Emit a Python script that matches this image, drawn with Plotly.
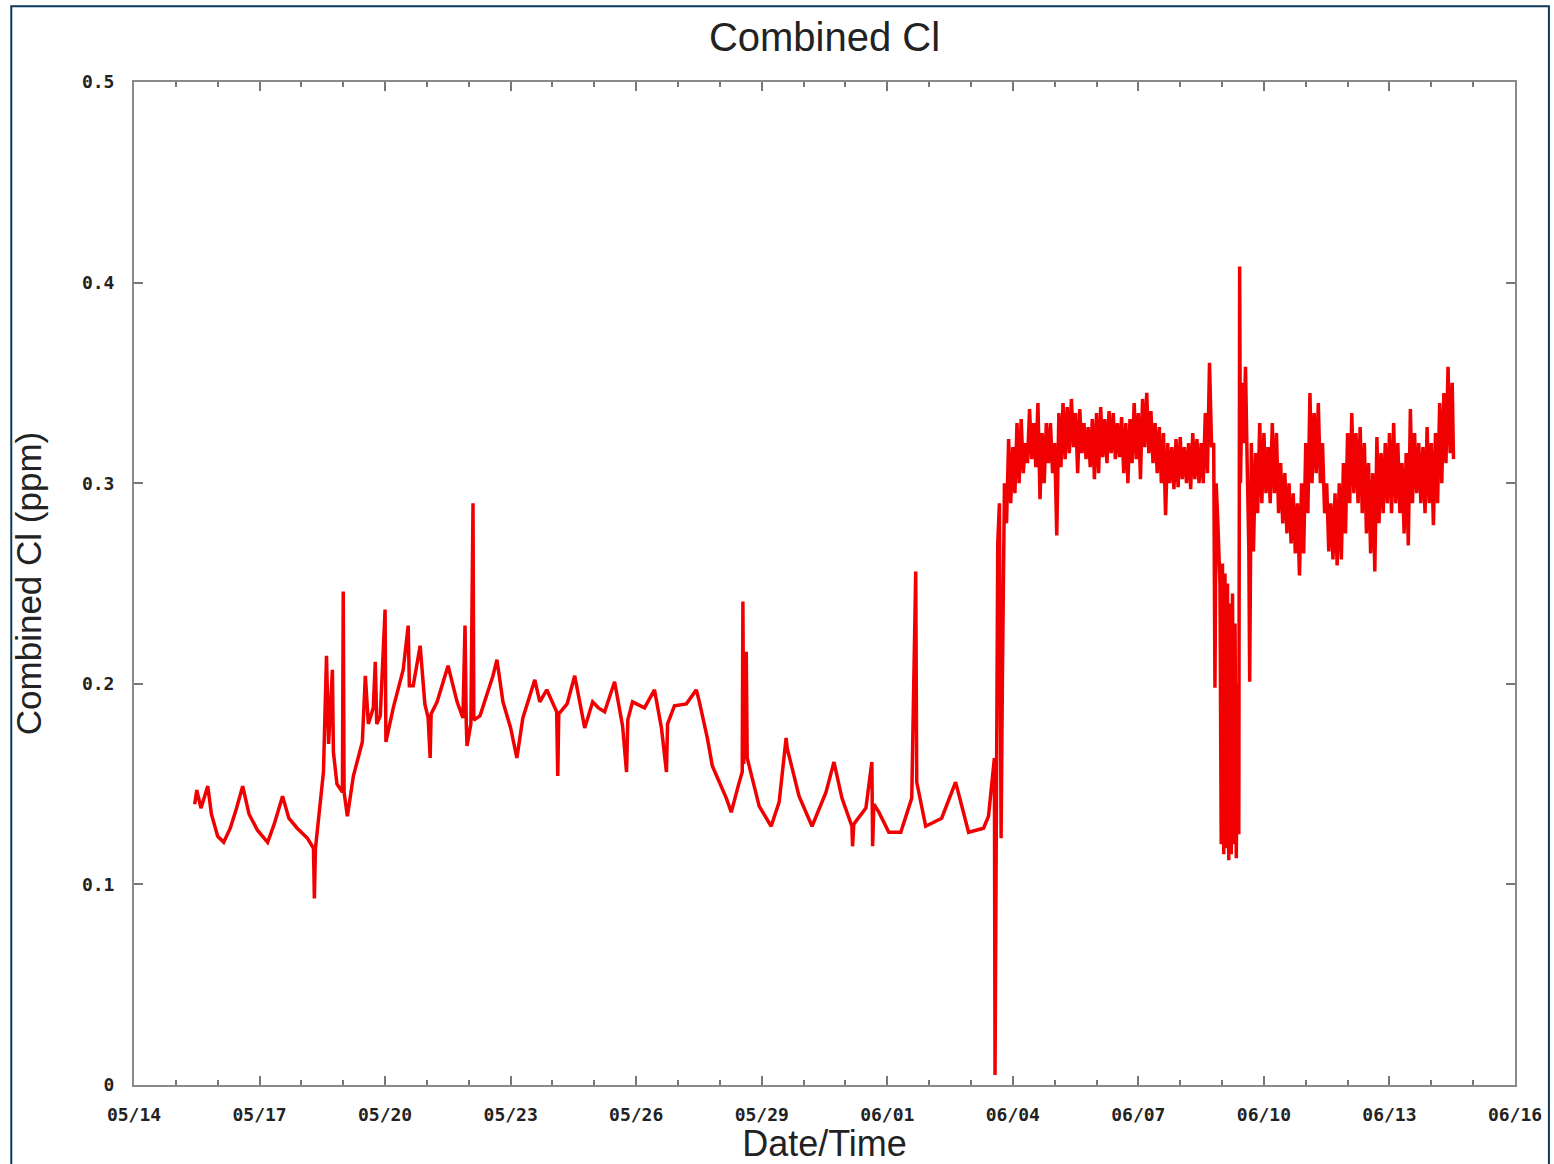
import pandas as pd
import plotly.graph_objects as go

# ---- data (days after 05/14 00:00, combined chlorine in ppm) ----
day_a = [1.45, 1.50, 1.60, 1.763, 1.85, 2.00, 2.144, 2.30, 2.45, 2.597, 2.75, 2.95, 3.193, 3.35, 3.55, 3.70,
         3.90, 4.146, 4.289, 4.31, 4.336, 4.45, 4.527, 4.60, 4.65, 4.741, 4.765, 4.85, 4.98, 5.00, 5.02, 5.099,
         5.242, 5.456, 5.528, 5.60, 5.718, 5.766, 5.80, 5.885, 6.00, 6.02, 6.195, 6.433, 6.552, 6.58, 6.672,
         6.838, 6.95, 7.029, 7.077, 7.10, 7.243, 7.505, 7.72, 7.86, 7.91, 7.94, 7.958, 8.05, 8.101, 8.12, 8.268,
         8.578, 8.673, 8.816, 9.00, 9.149, 9.292, 9.578, 9.697, 9.864, 10.10, 10.126, 10.15, 10.35, 10.531,
         10.77, 10.96, 11.10, 11.246, 11.484, 11.675, 11.77, 11.80, 11.913, 12.199, 12.437, 12.604, 12.723,
         12.75, 12.914, 13.20, 13.438, 13.51, 13.70, 13.82, 14.153, 14.272, 14.45, 14.534, 14.55, 14.57, 14.63,
         14.653, 14.939, 15.225, 15.416, 15.583, 15.607, 15.892, 16.202, 16.536, 16.726, 16.917, 17.155, 17.17,
         17.20, 17.489, 17.632, 17.65, 17.68, 17.799, 18.037, 18.323, 18.585, 18.68, 18.704, 18.918, 19.30,
         19.633, 19.943, 20.30, 20.419, 20.56, 20.575, 20.60, 20.64, 20.68, 20.70, 20.72, 20.75, 20.78]
cl_a = [0.140, 0.147, 0.138, 0.149, 0.135, 0.124, 0.121, 0.128, 0.138, 0.149, 0.135, 0.127, 0.121, 0.130, 0.144, 0.133,
        0.128, 0.123, 0.118, 0.093, 0.118, 0.140, 0.156, 0.214, 0.170, 0.207, 0.166, 0.150, 0.146, 0.246, 0.146, 0.134,
        0.154, 0.171, 0.204, 0.180, 0.188, 0.211, 0.180, 0.184, 0.237, 0.171, 0.188, 0.207, 0.229, 0.199, 0.199,
        0.219, 0.190, 0.183, 0.163, 0.185, 0.191, 0.209, 0.191, 0.183, 0.229, 0.180, 0.169, 0.180, 0.290, 0.182, 0.184,
        0.204, 0.212, 0.191, 0.178, 0.163, 0.183, 0.202, 0.191, 0.197, 0.186, 0.154, 0.185, 0.190, 0.204,
        0.178, 0.191, 0.188, 0.186, 0.201, 0.179, 0.156, 0.182, 0.191, 0.188, 0.197, 0.178, 0.156,
        0.180, 0.189, 0.190, 0.197, 0.191, 0.173, 0.159, 0.143, 0.136, 0.150, 0.156, 0.241, 0.160, 0.216,
        0.163, 0.139, 0.129, 0.141, 0.173, 0.168, 0.144, 0.129, 0.146, 0.161, 0.143, 0.129, 0.119,
        0.130, 0.138, 0.161, 0.119, 0.140, 0.136, 0.126, 0.126, 0.143, 0.256, 0.151, 0.129, 0.133,
        0.151, 0.126, 0.128, 0.134, 0.163, 0.005, 0.150, 0.270, 0.290, 0.165, 0.123, 0.200, 0.276]

day_b = [20.80, 20.85, 20.90, 20.95, 21.00, 21.05, 21.10, 21.15, 21.20, 21.25, 21.30, 21.35, 21.40, 21.45,
         21.50, 21.55, 21.60, 21.65, 21.70, 21.75, 21.80, 21.85, 21.90, 21.95, 22.00, 22.05, 22.10, 22.15,
         22.20, 22.25, 22.30, 22.35, 22.40, 22.45, 22.50, 22.55, 22.60, 22.65, 22.70, 22.75, 22.80, 22.85,
         22.90, 22.95, 23.00, 23.05, 23.10, 23.15, 23.20, 23.25, 23.30, 23.35, 23.40, 23.45, 23.50, 23.55,
         23.60, 23.65, 23.70, 23.75, 23.80, 23.85, 23.90, 23.95, 24.00, 24.05, 24.10, 24.15, 24.20, 24.25,
         24.30, 24.35, 24.40, 24.45, 24.50, 24.55, 24.60, 24.65, 24.70, 24.75, 24.80, 24.85, 24.90, 24.95,
         25.00, 25.05, 25.10, 25.15, 25.20, 25.25, 25.30, 25.35, 25.40, 25.45, 25.50, 25.55, 25.60, 25.65,
         25.70, 25.75, 25.80, 25.83, 25.86, 25.90, 25.95]
cl_b = [0.300, 0.280, 0.322, 0.290, 0.318, 0.295, 0.330, 0.300, 0.332, 0.305, 0.320, 0.310, 0.337, 0.312,
        0.330, 0.308, 0.340, 0.292, 0.325, 0.300, 0.330, 0.310, 0.330, 0.305, 0.320, 0.274, 0.335, 0.308,
        0.340, 0.312, 0.338, 0.315, 0.342, 0.318, 0.335, 0.305, 0.337, 0.315, 0.330, 0.312, 0.328, 0.308,
        0.332, 0.302, 0.335, 0.305, 0.338, 0.313, 0.332, 0.310, 0.336, 0.315, 0.335, 0.312, 0.330, 0.313,
        0.333, 0.305, 0.330, 0.300, 0.332, 0.310, 0.340, 0.312, 0.335, 0.302, 0.342, 0.318, 0.345, 0.315,
        0.336, 0.310, 0.330, 0.305, 0.328, 0.300, 0.325, 0.284, 0.320, 0.300, 0.318, 0.297, 0.322, 0.298,
        0.323, 0.302, 0.318, 0.300, 0.320, 0.297, 0.325, 0.302, 0.322, 0.300, 0.320, 0.300, 0.335, 0.305,
        0.360, 0.318, 0.320, 0.198, 0.300, 0.280, 0.250]

day_c = [25.98, 26.01, 26.04, 26.07, 26.10, 26.13, 26.16, 26.19, 26.22, 26.25, 26.28, 26.31, 26.34, 26.37,
         26.40, 26.42, 26.44, 26.48, 26.52, 26.56, 26.60, 26.64, 26.66, 26.69]
cl_c = [0.120, 0.260, 0.115, 0.255, 0.118, 0.250, 0.112, 0.240, 0.115, 0.245, 0.120, 0.230, 0.113, 0.200,
        0.125, 0.408, 0.300, 0.350, 0.320, 0.358, 0.310, 0.267, 0.201, 0.320]

day_d = [26.70, 26.75, 26.80, 26.85, 26.90, 26.95, 27.00, 27.05, 27.10, 27.15, 27.20, 27.25, 27.30, 27.35,
         27.40, 27.45, 27.50, 27.55, 27.60, 27.65, 27.70, 27.75, 27.80, 27.85, 27.90, 27.95, 28.00, 28.05,
         28.10, 28.15, 28.20, 28.25, 28.30, 28.35, 28.40, 28.45, 28.50, 28.55, 28.60, 28.65, 28.70, 28.75,
         28.80, 28.85, 28.90, 28.95, 29.00, 29.05, 29.10, 29.15, 29.20, 29.25, 29.30, 29.35, 29.40, 29.45,
         29.50, 29.55, 29.60, 29.65, 29.70, 29.75, 29.80, 29.85, 29.90, 29.95, 30.00, 30.05, 30.10, 30.15,
         30.20, 30.25, 30.30, 30.35, 30.40, 30.45, 30.50, 30.55, 30.60, 30.65, 30.70, 30.75, 30.80, 30.85,
         30.90, 30.95, 31.00, 31.05, 31.10, 31.15, 31.20, 31.25, 31.30, 31.35, 31.40, 31.45, 31.50, 31.53]
cl_d = [0.320, 0.266, 0.315, 0.285, 0.330, 0.290, 0.325, 0.295, 0.318, 0.290, 0.330, 0.295, 0.325, 0.285,
        0.310, 0.280, 0.305, 0.275, 0.300, 0.270, 0.295, 0.265, 0.290, 0.254, 0.300, 0.265, 0.320, 0.285,
        0.345, 0.300, 0.335, 0.305, 0.340, 0.300, 0.320, 0.285, 0.300, 0.266, 0.290, 0.262, 0.295, 0.259,
        0.300, 0.262, 0.310, 0.275, 0.325, 0.290, 0.335, 0.295, 0.325, 0.290, 0.328, 0.285, 0.320, 0.275,
        0.310, 0.265, 0.305, 0.256, 0.323, 0.280, 0.315, 0.285, 0.320, 0.290, 0.325, 0.285, 0.330, 0.290,
        0.320, 0.285, 0.310, 0.275, 0.315, 0.269, 0.337, 0.290, 0.325, 0.295, 0.320, 0.290, 0.318, 0.285,
        0.328, 0.290, 0.320, 0.279, 0.325, 0.290, 0.340, 0.300, 0.345, 0.310, 0.358, 0.315, 0.350, 0.312]

start_date = "2013-05-14"
end_date = "2013-06-16"
y_ticks = [0, 0.1, 0.2, 0.3, 0.4, 0.5]
y_ticktext = ["0", "0.1", "0.2", "0.3", "0.4", "0.5"]

days = day_a + day_b + day_c + day_d
values = cl_a + cl_b + cl_c + cl_d
times = pd.Timestamp(start_date) + pd.to_timedelta(days, unit="D")

W, H = 1554, 1164
L, R, T, B = 134, 1518, 82, 1087

def px(x):
    return (x - L) / (R - L)

def py(y):
    return (B - y) / (B - T)

fig = go.Figure()
fig.add_trace(go.Scatter(x=times, y=values, mode="lines",
                         line=dict(color="rgb(240,0,0)", width=3.5),
                         showlegend=False, hoverinfo="x+y"))

tickfont = dict(family="DejaVu Sans Mono", size=18, color="#222222", weight="bold")
axis_common = dict(showgrid=False, zeroline=False, showline=True, linecolor="#8a8a8a", linewidth=2,
                   mirror="allticks", ticks="inside", tickcolor="#777777", tickwidth=2)

fig.update_layout(
    width=W, height=H,
    margin=dict(l=L, r=W - R, t=T, b=H - B),
    paper_bgcolor="white", plot_bgcolor="white",
    title=dict(text="Combined Cl", x=0.5, xref="paper", y=1 - 37 / H, yref="container",
               xanchor="center", yanchor="middle",
               font=dict(family="Liberation Sans", size=40, color="#222222")),
    xaxis=dict(**axis_common, type="date", range=[start_date, end_date],
               tick0=start_date, dtick=3 * 86400000, tickformat="%m/%d", ticklen=9,
               tickfont=tickfont, ticklabelstandoff=12,
               minor=dict(dtick=86400000, ticks="inside", ticklen=5, tickcolor="#777777", tickwidth=2),
               title=dict(text="Date/Time", standoff=2,
                          font=dict(family="Liberation Sans", size=36, color="#222222"))),
    yaxis=dict(**axis_common, range=[0, 0.5], tickvals=y_ticks, ticktext=y_ticktext, ticklen=9,
               tickfont=tickfont, ticklabelstandoff=14,
               title=dict(text="Combined Cl (ppm)", standoff=30,
                          font=dict(family="Liberation Sans", size=35, color="#222222"))),
    shapes=[dict(type="rect", xref="paper", yref="paper",
                 x0=px(11), x1=px(1552), y0=py(1175), y1=py(6),
                 line=dict(color="#0d3a5c", width=2), fillcolor="rgba(0,0,0,0)", layer="above")],
)

fig.write_html("out.html", config={"displayModeBar": False},
               post_script="document.body.style.margin='0';document.body.style.overflow='hidden';")
